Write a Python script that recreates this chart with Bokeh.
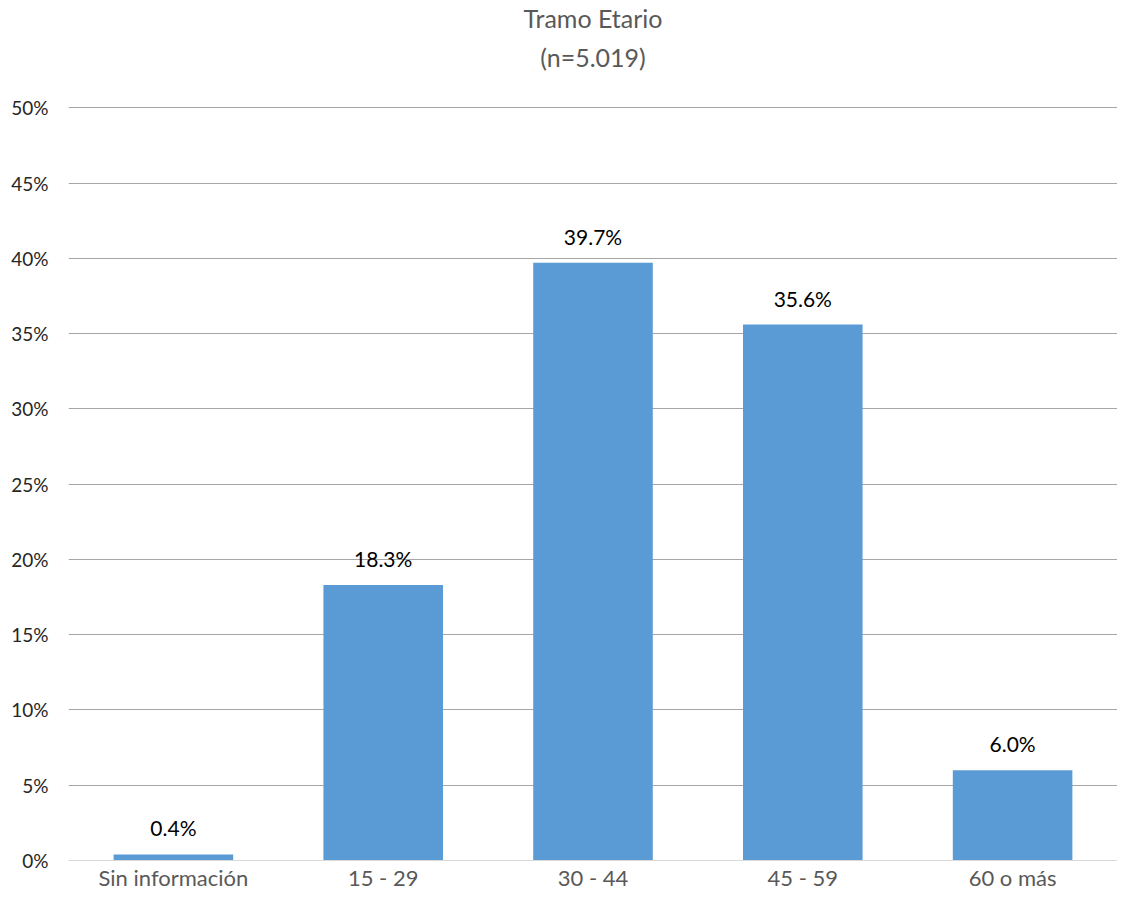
from bokeh.plotting import figure
from bokeh.models import ColumnDataSource, FactorRange, Range1d, FixedTicker, PrintfTickFormatter, LabelSet, Title
from bokeh.core.properties import value
from bokeh.embed import file_html
from bokeh.resources import INLINE

categories = ["Sin información", "15 - 29", "30 - 44", "45 - 59", "60 o más"]
values = [0.4, 18.3, 39.7, 35.6, 6.0]
value_labels = ["0.4%", "18.3%", "39.7%", "35.6%", "6.0%"]
y_ticks = [0, 5, 10, 15, 20, 25, 30, 35, 40, 45, 50]

FONT = "Lato"

src = ColumnDataSource(dict(cat=categories, val=values, lab=value_labels))

p = figure(width=1117, height=893, x_range=FactorRange(*categories, range_padding=0),
           y_range=Range1d(0, 50.15), output_backend="svg", toolbar_location=None,
           min_border_left=68, min_border_right=0, min_border_bottom=0, min_border_top=1)
p.outline_line_color = None
p.background_fill_color = "white"
p.border_fill_color = "white"


def title_item(text, size):
    return Title(text=text, align="center", text_font=FONT, text_font_size=size,
                 text_font_style="normal", text_color="#595959", standoff=0)


p.title.text = "Tramo Etario"
p.title.align = "center"
p.title.text_font = FONT
p.title.text_font_size = "25px"
p.title.text_font_style = "normal"
p.title.text_color = "#595959"
p.title.standoff = 0
# extra 'above' items: first added sits closest to the plot
p.add_layout(title_item(" ", "26px"), "above")
p.add_layout(title_item("(n=5.019)", "25px"), "above")
p.add_layout(title_item(" ", "4px"), "above")

p.vbar(x="cat", top="val", width=0.57, source=src, color="#5b9bd5", line_color=None)

p.add_layout(LabelSet(x="cat", y="val", text="lab", source=src, text_align="center",
                      text_baseline="bottom", y_offset=14, text_font=value(FONT),
                      text_font_size="21px", text_color="#000000"))

p.xgrid.grid_line_color = None
p.ygrid.grid_line_color = "#a6a6a6"
p.ygrid.grid_line_width = 1
p.ygrid.ticker = FixedTicker(ticks=y_ticks[1:])

p.yaxis.ticker = FixedTicker(ticks=y_ticks)
p.yaxis.formatter = PrintfTickFormatter(format="%d%%")
p.yaxis.axis_line_color = None
p.yaxis.major_tick_line_color = None
p.yaxis.minor_tick_line_color = None
p.yaxis.major_tick_out = 0
p.yaxis.major_tick_in = 0
p.yaxis.major_label_text_font = FONT
p.yaxis.major_label_text_font_size = "19px"
p.yaxis.major_label_text_color = "#262626"
p.yaxis.major_label_standoff = 20

p.xaxis.axis_line_color = "#d9d9d9"
p.xaxis.axis_line_width = 1
p.xaxis.major_tick_line_color = None
p.xaxis.minor_tick_line_color = None
p.xaxis.major_tick_out = 0
p.xaxis.major_tick_in = 0
p.xaxis.major_label_text_font = FONT
p.xaxis.major_label_text_font_size = "22px"
p.xaxis.major_label_text_color = "#595959"
p.xaxis.major_label_standoff = 3

open("out.html", "w").write(file_html(p, INLINE))
